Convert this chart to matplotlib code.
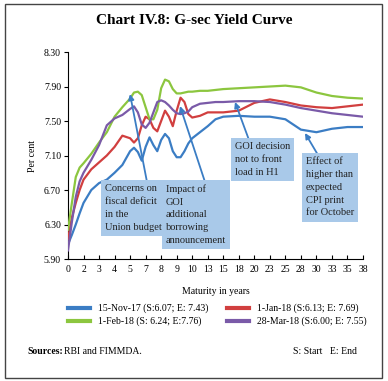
import matplotlib
matplotlib.use("Agg")
import matplotlib.pyplot as plt
from matplotlib.patches import Rectangle
from matplotlib.lines import Line2D

# %% data (x in tick positions, tick labels give maturity in years)
tick_labels = ["0", "2", "3", "4", "5", "7", "8", "9", "10", "13", "15", "18",
               "20", "23", "25", "28", "30", "33", "35", "38"]
pos = [0, 0.25, 0.5, 0.75, 1, 1.5, 2, 2.5, 3, 3.5, 4, 4.25, 4.5, 4.75, 5, 5.25,
       5.5, 5.75, 6, 6.25, 6.5, 6.75, 7, 7.25, 7.5, 7.75, 8, 8.5, 9, 9.5, 10,
       11, 12, 13, 14, 15, 16, 17, 18, 19]

nov17 = [6.07, 6.18, 6.30, 6.43, 6.55, 6.70, 6.78, 6.82, 6.90, 6.99, 7.15, 7.19,
         7.14, 7.04, 7.20, 7.31, 7.22, 7.15, 7.28, 7.35, 7.30, 7.15, 7.08, 7.08,
         7.15, 7.24, 7.30, 7.37, 7.44, 7.52, 7.55, 7.56, 7.55, 7.55, 7.52, 7.40,
         7.37, 7.41, 7.43, 7.43]
jan18 = [6.13, 6.38, 6.55, 6.70, 6.82, 6.94, 7.02, 7.10, 7.20, 7.33, 7.30, 7.25,
         7.30, 7.45, 7.55, 7.52, 7.42, 7.38, 7.50, 7.62, 7.55, 7.44, 7.62, 7.77,
         7.72, 7.58, 7.54, 7.56, 7.60, 7.60, 7.60, 7.62, 7.71, 7.75, 7.72, 7.68,
         7.66, 7.65, 7.67, 7.69]
feb18 = [6.24, 6.55, 6.85, 6.96, 7.01, 7.12, 7.25, 7.37, 7.55, 7.66, 7.76, 7.83,
         7.84, 7.80, 7.66, 7.52, 7.52, 7.63, 7.88, 7.98, 7.96, 7.87, 7.82, 7.82,
         7.83, 7.84, 7.84, 7.85, 7.85, 7.86, 7.87, 7.88, 7.89, 7.90, 7.91, 7.89,
         7.83, 7.79, 7.77, 7.76]
mar18 = [6.00, 6.33, 6.62, 6.80, 6.90, 7.05, 7.22, 7.45, 7.53, 7.57, 7.64, 7.67,
         7.60, 7.46, 7.42, 7.48, 7.60, 7.72, 7.74, 7.72, 7.68, 7.63, 7.59, 7.58,
         7.59, 7.61, 7.66, 7.70, 7.71, 7.72, 7.72, 7.73, 7.73, 7.72, 7.69, 7.65,
         7.62, 7.59, 7.57, 7.55]

series = [
    ("15-Nov-17 (S:6.07; E: 7.43)", nov17, "#3b7dc4"),
    ("1-Jan-18 (S:6.13; E: 7.69)", jan18, "#d13f3f"),
    ("1-Feb-18 (S: 6.24; E:7.76)", feb18, "#8cc63f"),
    ("28-Mar-18 (S:6.00; E: 7.55)", mar18, "#7a5aa8"),
]

# %% plot
W, H = 388, 381
plt.rcParams["font.family"] = "Liberation Serif"
fig = plt.figure(figsize=(W / 100, H / 100), dpi=100)
fig.patches.append(Rectangle((5 / W, 3 / H), 377 / W, 374 / H, transform=fig.transFigure,
                             fill=False, edgecolor="#444444", linewidth=1.0))

ax = fig.add_axes([68 / W, 1 - 259 / H, (363 - 68) / W, (259 - 52) / H])
for name, vals, col in series:
    ax.plot(pos, vals, color=col, linewidth=1.6, label=name, zorder=3)

ax.set_xlim(0, 19)
ax.set_ylim(5.9, 8.3)
ax.set_yticks([5.9, 6.3, 6.7, 7.1, 7.5, 7.9, 8.3])
ax.set_yticklabels(["5.90", "6.30", "6.70", "7.10", "7.50", "7.90", "8.30"], fontsize=7)
ax.set_xticks(range(len(tick_labels)))
ax.set_xticklabels(tick_labels, fontsize=7)
ax.tick_params(axis="x", direction="in", length=3, pad=4)
ax.tick_params(axis="y", direction="out", length=3, pad=2)
for s in ["top", "right"]:
    ax.spines[s].set_visible(False)
ax.set_ylabel("Per cent", fontsize=7, labelpad=5)
ax.set_xlabel("Maturity in years", fontsize=7, labelpad=10)

# annotations
box = dict(boxstyle="square,pad=0.4", facecolor="#a9c9e9", edgecolor="none")
arrow = dict(arrowstyle="-|>", color="#3b7dc4", linewidth=1.3, mutation_scale=8,
             shrinkA=0, shrinkB=0)

def px(x, y):
    # pixel position of the figure -> data coordinates
    return ax.transData.inverted().transform(fig.transFigure.transform((x / W, 1 - y / H)))

notes = [
    ("Concerns on\nfiscal deficit\nin the\nUnion budget", (105, 184), (147, 182), (130, 94)),
    ("Impact of\nGOI\nadditional\nborrowing\nannouncement", (166, 184), (205, 182), (180, 106)),
    ("GOI decision\nnot to front\nload in H1", (235, 142), (249, 140), (235, 102)),
    ("Effect of\nhigher than\nexpected\nCPI print\nfor October", (306, 157), (318, 155), (305, 133)),
]
for txt, tpos, start, head in notes:
    ax.annotate("", xy=px(*head), xytext=px(*start), arrowprops=arrow, zorder=4,
                annotation_clip=False)
    ax.text(*px(*tpos), txt, fontsize=7.5, va="top", ha="left", color="#222222",
            bbox=box, linespacing=1.55, zorder=5, clip_on=False)

handles = [Line2D([], [], color=c, linewidth=3) for _, _, c in series]
labels = [n for n, _, _ in series]
order = [0, 2, 1, 3]
fig.legend([handles[i] for i in order], [labels[i] for i in order], ncol=2,
           loc="center", bbox_to_anchor=(0.56, 1 - 315 / H), frameon=False,
           fontsize=7, handlelength=2.2, columnspacing=2.0, labelspacing=0.35)

fig.text(0.5, 1 - 20 / H, "Chart IV.8: G-sec Yield Curve", fontsize=11,
         fontweight="bold", ha="center", va="center")
fig.text(27 / W, 1 - 352 / H, "Sources:", fontsize=7, fontweight="bold",
         ha="left", va="center")
fig.text(64 / W, 1 - 352 / H, "RBI and FIMMDA.", fontsize=7, ha="left", va="center")
fig.text(357 / W, 1 - 352 / H, "S: Start   E: End", fontsize=7, ha="right", va="center")

fig.savefig("out.png", dpi=100)
